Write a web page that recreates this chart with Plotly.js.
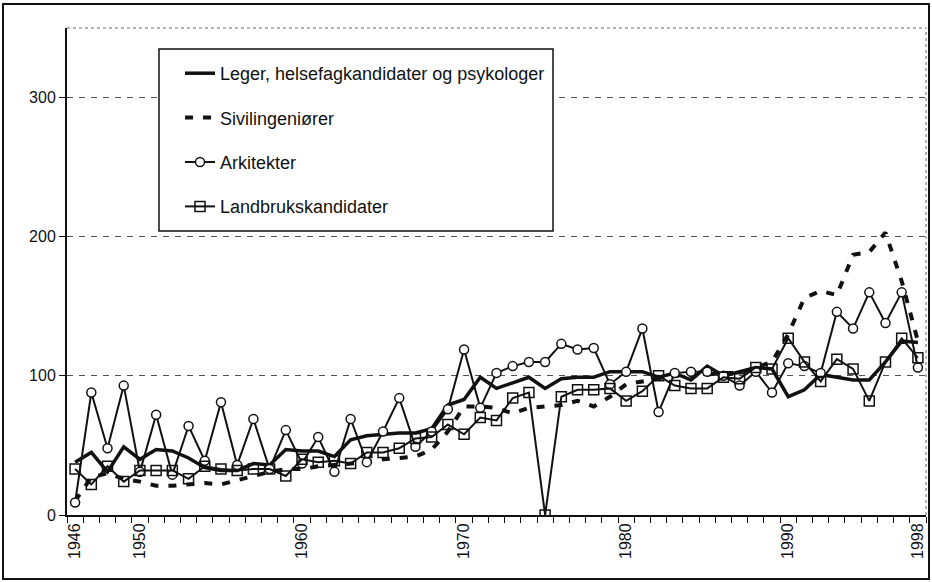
<!DOCTYPE html>
<html>
<head>
<meta charset="utf-8">
<script src="https://cdn.plot.ly/plotly-3.0.1.min.js"></script>
<style>
  html, body { margin: 0; padding: 0; background: #fff; }
  #wrap { position: relative; width: 932px; height: 582px; }
  #chart { position: absolute; left: 0; top: 0; width: 932px; height: 582px; }
  #frame { position: absolute; left: 2px; top: 3px; width: 928px; height: 577px; border: 2px solid #111; box-sizing: border-box; pointer-events: none; }
</style>
</head>
<body>
<div id="wrap"><div id="chart"></div><div id="frame"></div></div>
<script>
const years = [1946,1947,1948,1949,1950,1951,1952,1953,1954,1955,
  1956,1957,1958,1959,1960,1961,1962,1963,1964,1965,
  1966,1967,1968,1969,1970,1971,1972,1973,1974,1975,
  1976,1977,1978,1979,1980,1981,1982,1983,1984,1985,
  1986,1987,1988,1989,1990,1991,1992,1993,1994,1995,
  1996,1997,1998];

const leger = [38,45,31,49,40,47,46,41,34,32,
  32,37,36,47,46,46,42,54,57,58,
  59,59,62,79,83,99,91,95,99,91,
  98,99,99,103,103,103,99,102,97,107,
  100,103,106,105,85,90,101,99,97,97,
  110,125,124];

const sivil = [10,27,30,26,24,21,21,22,23,22,
  25,28,31,33,33,35,36,37,38,40,
  41,42,47,60,78,78,77,73,77,78,
  79,82,78,85,94,96,98,100,100,101,
  102,102,106,110,130,156,161,158,187,189,
  203,168,125];

const arkitekter = [9,88,48,93,31,72,29,64,39,81,
  36,69,33,61,37,56,31,69,38,60,
  84,49,60,76,119,77,102,107,110,110,
  123,119,120,94,103,134,74,102,103,103,
  100,93,103,88,109,107,102,146,134,160,
  138,160,106];

const landbruk = [33,22,35,24,32,32,32,26,35,33,
  32,33,33,28,40,38,39,37,45,45,
  48,55,56,65,58,70,68,84,88,0,
  85,90,90,91,82,89,100,93,91,91,
  99,98,106,105,127,110,96,112,105,82,
  110,127,113];

const seriesNames = ["Leger, helsefagkandidater og psykologer", "Sivilingeniører", "Arkitekter", "Landbrukskandidater"];
const xTickLabels = [1946, 1950, 1960, 1970, 1980, 1990, 1998];
const yTickValues = [0, 100, 200, 300];

const FONT = "Arial, 'Liberation Sans', Helvetica, sans-serif";

const traces = [
  { x: years, y: leger, name: seriesNames[0], mode: "lines", legendgroup: "a",
    line: { color: "#111", width: 3.5 } },
  { x: years, y: sivil, name: seriesNames[1], mode: "lines", legendgroup: "b",
    line: { color: "#111", width: 4, dash: "8px,10px" } },
  { x: years, y: arkitekter, name: seriesNames[2], mode: "lines+markers", legendgroup: "c",
    line: { color: "#111", width: 2 },
    marker: { symbol: "circle", size: 9, color: "#fff", line: { color: "#111", width: 1.5 } } },
  { x: years, y: landbruk, name: seriesNames[3], mode: "lines+markers", legendgroup: "d",
    line: { color: "#111", width: 2 },
    marker: { symbol: "square", size: 10, color: "rgba(255,255,255,0)", line: { color: "#111", width: 1.5 } } }
];

const L = 67, R = 926, T = 28, B = 515;
const pw = R - L, ph = B - T;
function px(x) { return (x - L) / pw; }
function py(y) { return 1 - (y - T) / ph; }

const layout = {
  width: 932, height: 582,
  margin: { l: L, r: 932 - R, t: T, b: 582 - B, pad: 0 },
  paper_bgcolor: "#fff", plot_bgcolor: "#fff",
  font: { family: FONT, size: 14, color: "#111" },
  showlegend: true,
  legend: {
    x: px(180), y: py(55), xanchor: "left", yanchor: "top",
    bgcolor: "rgba(0,0,0,0)", borderwidth: 0,
    font: { family: FONT, size: 18, color: "#111" },
    traceorder: "grouped", tracegroupgap: 18
  },
  xaxis: {
    range: [1945.5, 1998.5],
    tickmode: "array", tickvals: xTickLabels, ticktext: xTickLabels.map(String),
    tickangle: -90, ticks: "", showgrid: false, zeroline: false,
    showline: true, linecolor: "#111", linewidth: 2,
    tickfont: { family: FONT, size: 16, color: "#111" },
    minor: { tickmode: "linear", tick0: 1945.5, dtick: 1, ticks: "outside", ticklen: 6, tickcolor: "#111", tickwidth: 1, showgrid: false },
    fixedrange: true
  },
  yaxis: {
    range: [0, 350],
    tickmode: "array", tickvals: yTickValues, ticktext: yTickValues.map(String),
    ticks: "outside", ticklen: 6, tickcolor: "#111",
    showgrid: true, gridcolor: "#555", gridwidth: 1, griddash: "6px,6px",
    zeroline: false, showline: true, linecolor: "#111", linewidth: 2,
    tickfont: { family: FONT, size: 16, color: "#111" },
    fixedrange: true
  },
  shapes: [
    { type: "line", xref: "paper", yref: "paper", x0: 0, x1: 1, y0: 1, y1: 1,
      line: { color: "#999", width: 1.5, dash: "dot" } },
    { type: "line", xref: "paper", yref: "paper", x0: 1, x1: 1, y0: 0, y1: 1,
      line: { color: "#999", width: 1.5, dash: "dot" } },
    { type: "rect", xref: "paper", yref: "paper", layer: "above",
      x0: px(159), x1: px(553), y0: py(231), y1: py(49),
      fillcolor: "#fff", line: { color: "#111", width: 1.5 } }
  ]
};

Plotly.newPlot("chart", traces, layout, { staticPlot: true, displayModeBar: false });
</script>
</body>
</html>
